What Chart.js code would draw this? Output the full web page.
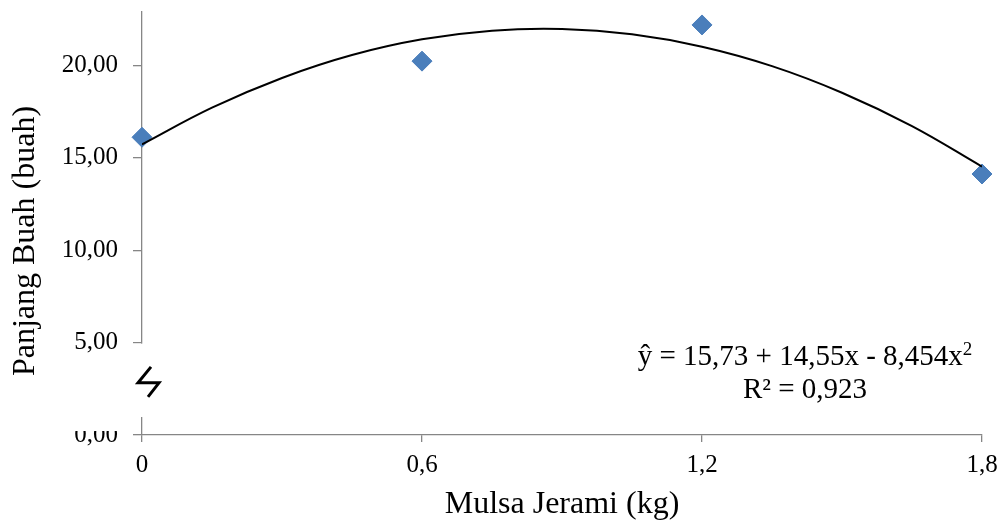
<!DOCTYPE html>
<html><head><meta charset="utf-8">
<script src="https://cdn.jsdelivr.net/npm/chart.js@4"></script>
<style>html,body{margin:0;padding:0;background:#fff}canvas{display:block}</style>
</head><body>
<canvas id="c" width="1004" height="524"></canvas>
<script>
// ---- data ----
const xValues = [0, 0.6, 1.2, 1.8];
const panjangBuah = [16.12, 20.24, 22.2, 14.13];
// points
const trendX = [0, 0.15, 0.3, 0.45, 0.6, 0.75, 0.9, 1.05, 1.2, 1.35, 1.5, 1.65, 1.8];
const trendY = [15.73, 17.72, 19.33, 20.57, 21.42, 21.89, 21.98, 21.69, 21.02, 19.97, 18.53, 16.72, 14.53];
const xTickValues = [0, 0.6, 1.2, 1.8];
const xTickLabels = ['0', '0,6', '1,2', '1,8'];
const yTickValues = [0, 5, 10, 15, 20];
const yTickLabels = ['0,00', '5,00', '10,00', '15,00', '20,00'];
const xTitle = 'Mulsa Jerami (kg)';
const yTitle = 'Panjang Buah (buah)';
const eqMain = 'ŷ = 15,73 + 14,55x - 8,454x';
const eqSup = '2';
const r2Text = 'R² = 0,923';

const FONT = '"Liberation Serif", "Times New Roman", serif';
const AXIS_COLOR = '#868686';
const TICK_SIZE = 25;
const TITLE_SIZE = 32;
const EQ_SIZE = 29;

const scatterData = xValues.map((x, i) => ({x: x, y: panjangBuah[i]}));
const trendData = trendX.map((x, i) => ({x: x, y: trendY[i]}));

const decorPlugin = {
  id: 'decor',
  afterDraw(chart) {
    const ctx = chart.ctx;
    const xs = chart.scales.x, ys = chart.scales.y;
    const ax = xs.getPixelForValue(0);
    const y5 = ys.getPixelForValue(5);
    const y0 = ys.getPixelForValue(0);
    ctx.save();
    // axis break: white covers
    ctx.fillStyle = '#fff';
    ctx.fillRect(ax - 12, y5 + 1, 20, (y0 - 18) - (y5 + 1));
    ctx.fillRect(0, y5 + 11, ax - 9, (y0 - 4) - (y5 + 11));
    // break symbol
    const ym = (y5 + y0) / 2;
    ctx.strokeStyle = '#000';
    ctx.lineWidth = 3;
    ctx.lineJoin = 'miter';
    ctx.beginPath();
    ctx.moveTo(ax + 9, ym - 22);
    ctx.lineTo(ax - 4, ym - 6);
    ctx.lineTo(ax + 17, ym - 6);
    ctx.lineTo(ax + 6, ym + 8);
    ctx.stroke();

    ctx.fillStyle = '#000';
    // axis titles
    ctx.font = TITLE_SIZE + 'px ' + FONT;
    ctx.textAlign = 'center';
    ctx.textBaseline = 'middle';
    ctx.fillText(xTitle, (chart.chartArea.left + chart.chartArea.right) / 2, 505);
    ctx.save();
    ctx.translate(26, 241);
    ctx.rotate(-Math.PI / 2);
    ctx.fillText(yTitle, 0, 0);
    ctx.restore();

    // equation
    const cx = chart.chartArea.right - 177;
    ctx.font = EQ_SIZE + 'px ' + FONT;
    const wMain = ctx.measureText(eqMain).width;
    ctx.font = Math.round(EQ_SIZE * 0.65) + 'px ' + FONT;
    const wSup = ctx.measureText(eqSup).width;
    const start = cx - (wMain + wSup) / 2;
    ctx.textAlign = 'left';
    ctx.font = EQ_SIZE + 'px ' + FONT;
    ctx.fillText(eqMain, start, 357);
    ctx.font = Math.round(EQ_SIZE * 0.65) + 'px ' + FONT;
    ctx.fillText(eqSup, start + wMain, 350);
    ctx.font = EQ_SIZE + 'px ' + FONT;
    ctx.textAlign = 'center';
    ctx.fillText(r2Text, cx, 390);
    ctx.restore();
  }
};

new Chart(document.getElementById('c'), {
  type: 'scatter',
  data: {
    datasets: [
      {
        label: 'Trend',
        type: 'line',
        data: trendData,
        borderColor: '#000',
        borderWidth: 2,
        pointRadius: 0,
        tension: 0.4,
        fill: false,
        order: 0
      },
      {
        label: 'Panjang Buah',
        data: scatterData,
        pointStyle: 'rectRot',
        pointRadius: 10,
        pointHoverRadius: 10,
        backgroundColor: '#4A7EBB',
        borderColor: '#4A7EBB',
        borderWidth: 1,
        clip: false,
        order: 1
      }
    ]
  },
  options: {
    responsive: false,
    animation: false,
    events: [],
    layout: {padding: {top: 12, right: 22, bottom: 0, left: 0}},
    plugins: {legend: {display: false}, tooltip: {enabled: false}, title: {display: false}},
    scales: {
      x: {
        type: 'linear',
        min: 0, max: 1.8,
        afterBuildTicks: s => { s.ticks = xTickValues.map(v => ({value: v})); },
        afterFit: s => { s.height = 89; s.paddingLeft = 0; s.paddingRight = 0; },
        ticks: {
          autoSkip: false, maxRotation: 0, minRotation: 0,
          callback: (v, i) => xTickLabels[i],
          font: {family: FONT, size: TICK_SIZE},
          color: '#000',
          padding: 8
        },
        grid: {drawOnChartArea: false, drawTicks: true, tickLength: 7, color: AXIS_COLOR, lineWidth: 1.3},
        border: {display: true, color: AXIS_COLOR, width: 1.3}
      },
      y: {
        type: 'linear',
        min: 0, max: 22.9,
        afterBuildTicks: s => { s.ticks = yTickValues.map(v => ({value: v})); },
        afterFit: s => { s.width = 142; s.paddingTop = 0; s.paddingBottom = 0; },
        ticks: {
          autoSkip: false,
          callback: (v, i) => yTickLabels[i],
          font: {family: FONT, size: TICK_SIZE},
          color: '#000',
          padding: 15
        },
        grid: {drawOnChartArea: false, drawTicks: true, tickLength: 9, color: AXIS_COLOR, lineWidth: 1.3},
        border: {display: true, color: AXIS_COLOR, width: 1.3}
      }
    }
  },
  plugins: [decorPlugin]
});
</script>
</body></html>
